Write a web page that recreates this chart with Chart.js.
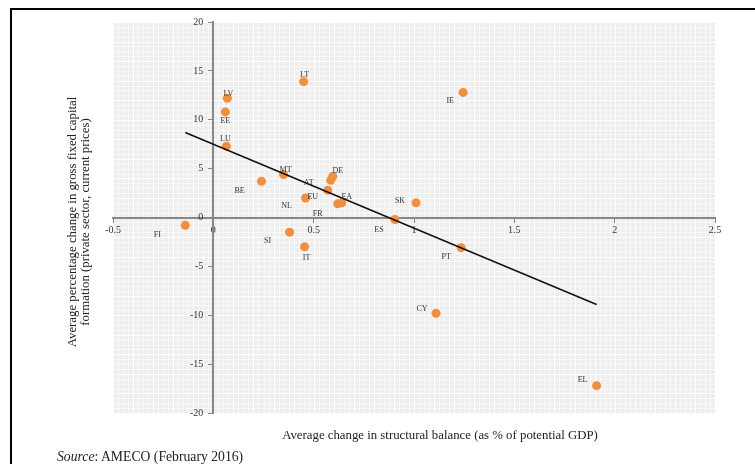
<!DOCTYPE html>
<html lang="en">
<head>
  <meta charset="UTF-8">
  <title>Structural balance vs investment</title>
  <script src="https://cdn.jsdelivr.net/npm/chart.js"></script>
  <style>
    body {
      margin: 0;
      background: #fff;
      font-family: "Liberation Serif", serif;
    }
    #wrap {
      position: relative;
      width: 755px;
      height: 464px;
      overflow: hidden;
    }
    #frame {
      position: absolute;
      left: 10px;
      top: 8px;
      width: 800px;
      height: 500px;
      border-left: 2px solid #000;
      border-top: 2px solid #000;
    }
    canvas {
      position: absolute;
      left: 0;
      top: 0;
    }
    #xtitle {
      position: absolute;
      left: 0;
      width: 880px;
      top: 428px;
      text-align: center;
      font-size: 12.8px;
      color: #222;
    }
    #ytitle {
      position: absolute;
      left: 79px;
      top: 222px;
      width: 360px;
      transform: translate(-50%, -50%) rotate(-90deg);
      text-align: center;
      font-size: 12.8px;
      line-height: 13px;
      color: #222;
    }
    #source {
      position: absolute;
      left: 57px;
      top: 449px;
      font-size: 13.7px;
      color: #222;
    }
  </style>
</head>
<body>
  <div id="wrap">
    <div id="frame"></div>
    <canvas id="chart" width="755" height="464"></canvas>
    <div id="xtitle">Average change in structural balance (as % of potential GDP)</div>
    <div id="ytitle">Average percentage change in gross fixed capital<br>formation (private sector, current prices)</div>
    <div id="source"><i>Source</i>: AMECO (February 2016)</div>
  </div>

  <script>
    // 国 / データ
    const countries = ["FI", "LV", "EE", "LU", "LT", "MT", "BE", "DE", "AT", "EU", "NL", "FR", "EA", "SI", "IT", "ES", "SK", "PT", "CY", "IE", "EL"];
    const balanceChange = [-0.14, 0.07, 0.06, 0.065, 0.45, 0.35, 0.24, 0.595, 0.585, 0.57, 0.46, 0.62, 0.64, 0.38, 0.455, 0.905, 1.01, 1.235, 1.11, 1.245, 1.91];
    const investChange = [-0.8, 12.2, 10.8, 7.3, 13.9, 4.4, 3.7, 4.2, 3.8, 2.8, 2.0, 1.4, 1.5, -1.5, -3.0, -0.2, 1.5, -3.1, -9.8, 12.8, -17.2];
    const trendX = [-0.14, 1.91];
    const trendY = [8.7, -8.9];
    const xTicks = [-0.5, 0, 0.5, 1, 1.5, 2, 2.5];
    const yTicks = [-20, -15, -10, -5, 0, 5, 10, 15, 20];

    // ラベル位置（点からのずれ, px）
    const labelOffsets = {
      FI: [-28, 10], LV: [1, -4], EE: [0, 9], LU: [-1, -7], LT: [1, -7], MT: [2, -5],
      BE: [-22, 10], DE: [5, -6], AT: [-22, 3], EU: [-15, 7], NL: [-19, 8], FR: [-20, 10],
      EA: [5, -6], SI: [-22, 9], IT: [2, 11], ES: [-16, 10], SK: [-16, -2], PT: [-15, 9],
      CY: [-14, -4], IE: [-13, 9], EL: [-14, -6]
    };

    const bgGrid = {
      id: 'bgGrid',
      beforeDraw(chart) {
        const { ctx, chartArea: a, scales: { x, y } } = chart;
        ctx.save();
        ctx.fillStyle = '#eeeeee';
        ctx.fillRect(a.left, a.top, a.right - a.left, a.bottom - a.top);
        ctx.strokeStyle = 'rgba(255,255,255,0.6)';
        ctx.lineWidth = 1;
        ctx.beginPath();
        for (let v = -0.5; v <= 2.5001; v += 0.025) {
          const px = Math.round(x.getPixelForValue(v)) + 0.5;
          ctx.moveTo(px, a.top); ctx.lineTo(px, a.bottom);
        }
        for (let v = -20; v <= 20.001; v += 0.5) {
          const py = Math.round(y.getPixelForValue(v)) + 0.5;
          ctx.moveTo(a.left, py); ctx.lineTo(a.right, py);
        }
        ctx.stroke();
        ctx.strokeStyle = '#ffffff';
        ctx.beginPath();
        for (let v = -0.5; v <= 2.5001; v += 0.1) {
          const px = Math.round(x.getPixelForValue(v)) + 0.5;
          ctx.moveTo(px, a.top); ctx.lineTo(px, a.bottom);
        }
        for (let v = -20; v <= 20.001; v += 2) {
          const py = Math.round(y.getPixelForValue(v)) + 0.5;
          ctx.moveTo(a.left, py); ctx.lineTo(a.right, py);
        }
        ctx.stroke();
        ctx.restore();
      }
    };

    const pointLabels = {
      id: 'pointLabels',
      afterDatasetsDraw(chart) {
        const { ctx } = chart;
        const meta = chart.getDatasetMeta(0);
        ctx.save();
        ctx.font = '8px "Liberation Serif", serif';
        ctx.fillStyle = '#333';
        ctx.textAlign = 'center';
        ctx.textBaseline = 'middle';
        meta.data.forEach((pt, i) => {
          const off = labelOffsets[countries[i]] || [0, -8];
          ctx.fillText(countries[i], pt.x + off[0], pt.y + off[1]);
        });
        ctx.restore();
      }
    };

    const tickFont = { family: '"Liberation Serif", serif', size: 10 };

    new Chart(document.getElementById('chart'), {
      type: 'scatter',
      data: {
        datasets: [
          {
            data: countries.map((c, i) => ({ x: balanceChange[i], y: investChange[i] })),
            backgroundColor: '#f28e3c',
            borderWidth: 0,
            pointRadius: 4.5,
            order: 1
          },
          {
            type: 'line',
            data: trendX.map((v, i) => ({ x: v, y: trendY[i] })),
            borderColor: '#111',
            borderWidth: 1.5,
            pointRadius: 0,
            fill: false,
            order: 0
          }
        ]
      },
      options: {
        responsive: false,
        animation: false,
        layout: { padding: { left: 113, right: 40, top: 22, bottom: 51 } },
        plugins: { legend: { display: false }, tooltip: { enabled: false } },
        scales: {
          x: {
            type: 'linear',
            min: -0.5, max: 2.5,
            position: { y: 0 },
            afterBuildTicks: s => { s.ticks = xTicks.map(v => ({ value: v })); },
            ticks: { font: tickFont, color: '#333', padding: 3, maxRotation: 0, callback: v => String(v) },
            grid: { drawOnChartArea: false, drawTicks: true, tickLength: 4, color: '#888' },
            border: { color: '#888', width: 2 }
          },
          y: {
            type: 'linear',
            min: -20, max: 20,
            position: { x: 0 },
            afterBuildTicks: s => { s.ticks = yTicks.map(v => ({ value: v })); },
            // 軸から離すため末尾に空白
            ticks: { font: tickFont, color: '#333', padding: 3, callback: v => v + '    ' },
            grid: { drawOnChartArea: false, drawTicks: true, tickLength: 4, color: '#888' },
            border: { color: '#888', width: 2 }
          }
        }
      },
      plugins: [bgGrid, pointLabels]
    });
  </script>
</body>
</html>
